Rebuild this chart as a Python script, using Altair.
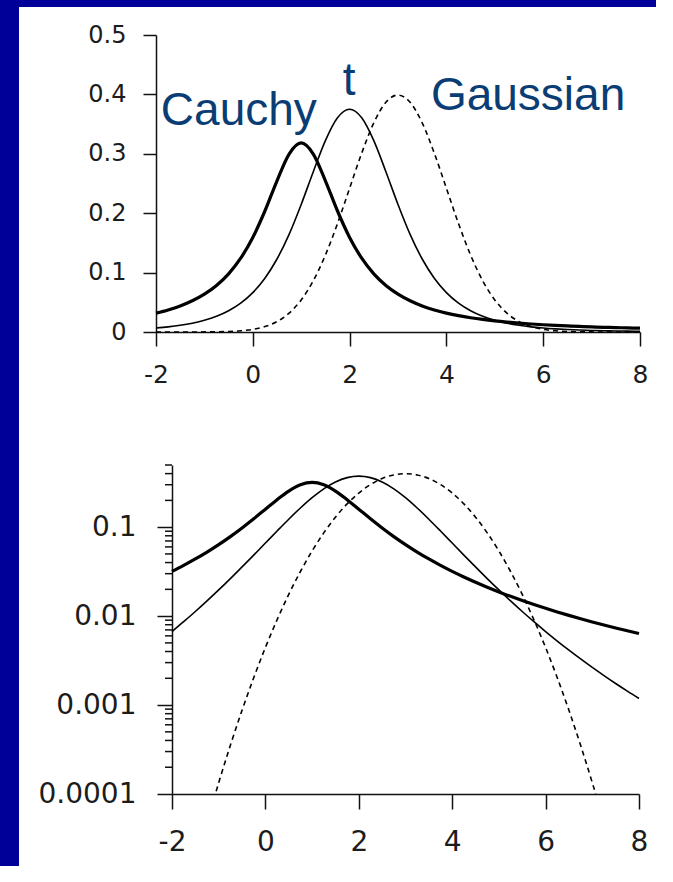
import altair as alt
import pandas as pd

# Densities sampled every 0.25 on [-2, 8]
x_grid = [-2.0, -1.75, -1.5, -1.25, -1.0, -0.75, -0.5, -0.25, 0.0, 0.25, 0.5,
          0.75, 1.0, 1.25, 1.5, 1.75, 2.0, 2.25, 2.5, 2.75, 3.0, 3.25, 3.5,
          3.75, 4.0, 4.25, 4.5, 4.75, 5.0, 5.25, 5.5, 5.75, 6.0, 6.25, 6.5,
          6.75, 7.0, 7.25, 7.5, 7.75, 8.0]

cauchy = [0.03183, 0.03718, 0.04390, 0.05251, 0.06366, 0.07835, 0.09794,
          0.1242, 0.1592, 0.2037, 0.2546, 0.2996, 0.3183, 0.2996, 0.2546,
          0.2037, 0.1592, 0.1242, 0.09794, 0.07835, 0.06366, 0.05251, 0.04390,
          0.03718, 0.03183, 0.02753, 0.02402, 0.02113, 0.01872, 0.01670,
          0.01498, 0.01351, 0.01224, 0.01114, 0.01019, 0.009345, 0.008603,
          0.007945, 0.007360, 0.006836, 0.006366]

student_t = [0.006708, 0.008655, 0.01127, 0.01483, 0.01969, 0.02640, 0.03576,
             0.04854, 0.06629, 0.09053, 0.1229, 0.1644, 0.2147, 0.2699,
             0.3223, 0.3607, 0.375, 0.3607, 0.3223, 0.2699, 0.2147, 0.1644,
             0.1229, 0.09053, 0.06629, 0.04854, 0.03576, 0.02640, 0.01969,
             0.01483, 0.01127, 0.008655, 0.006708, 0.005249, 0.004144,
             0.003300, 0.002650, 0.002145, 0.001748, 0.001435, 0.001186]

gaussian = [1.487e-6, 5.029e-6, 1.598e-5, 4.772e-5, 1.338e-4, 3.525e-4,
            8.727e-4, 0.002029, 0.004432, 0.009094, 0.01753, 0.03174,
            0.05399, 0.08628, 0.1295, 0.1826, 0.2420, 0.3011, 0.3521, 0.3867,
            0.3989, 0.3867, 0.3521, 0.3011, 0.2420, 0.1826, 0.1295, 0.08628,
            0.05399, 0.03174, 0.01753, 0.009094, 0.004432, 0.002029, 8.727e-4,
            3.525e-4, 1.338e-4, 4.772e-5, 1.598e-5, 5.029e-6, 1.487e-6]

x_ticks = [-2, 0, 2, 4, 6, 8]
linear_ticks = [0, 0.1, 0.2, 0.3, 0.4, 0.5]
log_major_ticks = [0.0001, 0.001, 0.01, 0.1]
log_minor_ticks = [0.0002, 0.0003, 0.0004, 0.0005, 0.0006, 0.0007, 0.0008, 0.0009,
                   0.002, 0.003, 0.004, 0.005, 0.006, 0.007, 0.008, 0.009,
                   0.02, 0.03, 0.04, 0.05, 0.06, 0.07, 0.08, 0.09,
                   0.2, 0.3, 0.4, 0.5]

label_names = ["Cauchy", "t", "Gaussian"]
label_x = [-1.9, 1.86, 3.68]
label_y = [0.3485, 0.399, 0.3737]

NAVY = "#000099"
TEXT_BLUE = "#0a3d74"
INK = "#111111"

# Page geometry (pixels): both panels live in one view whose bottom edge is
# the lower panel's x axis, so line clipping stops at 0.0001.
W, H, FULL_H = 656, 794, 866
TOP_L, TOP_R, TOP_T, TOP_B = 156, 640, 35, 332
BOT_L, BOT_R, BOT_T, BOT_B = 172, 639, 465, 794

curves = pd.DataFrame({
    "x": x_grid * 3,
    "density": cauchy + student_t + gaussian,
    "series": ["Cauchy"] * len(x_grid) + ["t"] * len(x_grid) + ["Gaussian"] * len(x_grid),
})
labels = pd.DataFrame({"name": label_names, "x": label_x, "density": label_y})
minor = pd.DataFrame({"tick": log_minor_ticks})
one_row = pd.DataFrame({"k": [0]})

styles = {
    "Gaussian": dict(strokeWidth=1.6, strokeDash=[5, 4]),
    "t": dict(strokeWidth=1.6),
    "Cauchy": dict(strokeWidth=3.2),
}


def curve_layers(x_enc, y_enc):
    out = []
    for name in ["Gaussian", "t", "Cauchy"]:
        out.append(
            alt.Chart(curves)
            .transform_filter(alt.datum.series == name)
            .mark_line(color="black", clip=True, interpolate="monotone", **styles[name])
            .encode(x=x_enc, y=y_enc)
        )
    return out


def strip(x0, x1, y0, y1):
    return alt.Chart(one_row).mark_rect(color=NAVY).encode(
        x=alt.value(x0), x2=alt.value(x1), y=alt.value(y0), y2=alt.value(y1))


# Upper panel: linear density axis
top_xs = alt.Scale(domain=[-2, 8], range=[TOP_L, TOP_R], nice=False, zero=False)
top_x = alt.X("x:Q", scale=top_xs, title=None,
              axis=alt.Axis(orient="bottom", offset=TOP_B - H, values=x_ticks,
                            labelExpr="'' + datum.value", tickSize=14,
                            labelPadding=16, labelFontSize=25,
                            labelFlush=False, labelOverlap=False))
top_ys = alt.Scale(domain=[0, 0.5], range=[TOP_B, TOP_T], nice=False, zero=False)
top_y = alt.Y("density:Q", scale=top_ys, title=None,
              axis=alt.Axis(orient="left", offset=-TOP_L, values=linear_ticks,
                            labelExpr="'' + datum.value", tickSize=13,
                            labelPadding=17, labelFontSize=24, labelOverlap=False))
names = alt.Chart(labels).mark_text(
    align="left", baseline="alphabetic", font="Liberation Sans",
    fontSize=46, color=TEXT_BLUE
).encode(x=top_x, y=top_y, text="name:N")

top = alt.layer(*curve_layers(top_x, top_y), names)

# Lower panel: logarithmic density axis
bot_xs = alt.Scale(domain=[-2, 8], range=[BOT_L, BOT_R], nice=False, zero=False)
bot_x = alt.X("x:Q", scale=bot_xs, title=None,
              axis=alt.Axis(orient="bottom", offset=BOT_B - H, values=x_ticks,
                            labelExpr="'' + datum.value", tickSize=15,
                            labelPadding=19, labelFontSize=28,
                            labelFlush=False, labelOverlap=False))
bot_ys = alt.Scale(type="log", domain=[0.0001, 0.5], range=[BOT_B, BOT_T], nice=False)
log_axis = alt.Axis(orient="left", offset=-BOT_L, values=log_major_ticks,
                    labelExpr="'' + datum.value", tickSize=15, labelPadding=21,
                    labelFontSize=28, labelOverlap=False)
bot_y = alt.Y("density:Q", scale=bot_ys, title=None, axis=log_axis)
minor_ticks = alt.Chart(minor).mark_rule(color=INK, strokeWidth=1.5).encode(
    y=alt.Y("tick:Q", scale=bot_ys, title=None, axis=log_axis),
    x=alt.value(BOT_L - 7), x2=alt.value(BOT_L))

bottom = alt.layer(*curve_layers(bot_x, bot_y), minor_ticks)

chart = (
    alt.layer(
        strip(0, 19, 0, FULL_H),
        strip(0, W, 0, 7),
        top,
        bottom,
    )
    .resolve_scale(x="independent", y="independent")
    .properties(width=W, height=H, padding=0, background="white")
    .configure_view(stroke=None)
    .configure_axis(grid=False, domainColor=INK, domainWidth=1.5, tickColor=INK,
                    tickWidth=1.5, labelColor="#1c1c1c", labelFont="DejaVu Sans")
)

chart.save("out.html", embed_options={"renderer": "svg", "actions": False})
